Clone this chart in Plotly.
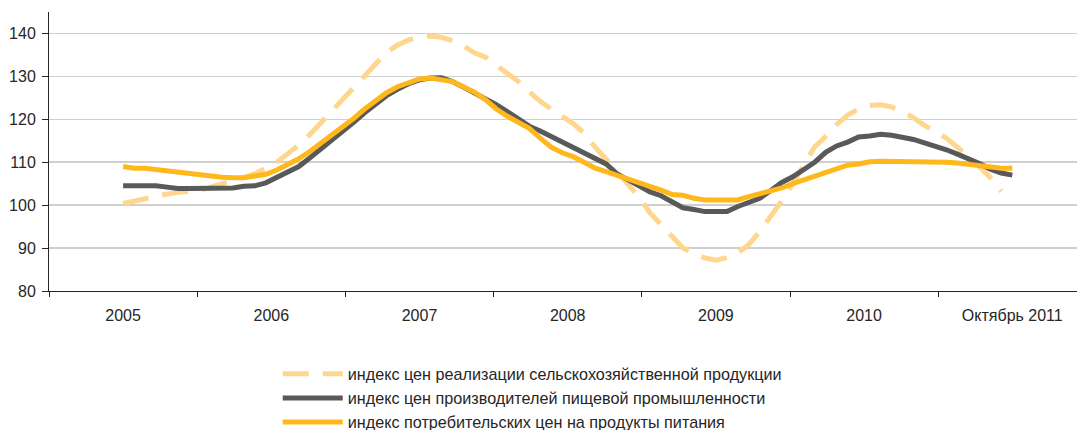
import plotly.graph_objects as go

# Monthly index values, Jan 2005 .. Oct 2011
agri = [100.4, 101.0, 101.6, 102.2, 102.6, 103.0, 103.1, 103.4, 104.2, 105.0,
        105.6, 106.3, 107.3, 108.6, 110.0, 112.0, 114.0, 116.4, 119.2, 121.6,
        124.7, 127.5, 130.4, 133.2, 135.6, 137.3, 138.5, 139.2, 139.4, 139.1,
        138.3, 137.1, 135.5, 134.5, 132.5, 130.8, 128.8, 126.4, 124.2, 122.4,
        120.6, 119.0, 116.8, 113.5, 110.7, 107.8, 105.0, 101.9, 98.2, 95.5,
        93.0, 90.0, 88.8, 87.7, 87.2, 87.8, 88.9, 90.8, 93.9, 97.3,
        101.0, 105.0, 109.5, 113.6, 116.0, 118.8, 121.0, 122.4, 123.2, 123.4,
        122.9, 121.8, 120.4, 118.6, 117.1, 115.6, 113.5, 111.3, 109.0, 106.4,
        103.2]

ppi_food = [104.5, 104.5, 104.5, 104.5, 104.2, 103.9, 103.9, 103.9, 103.9, 103.9,
            104.0, 104.4, 104.5, 105.2, 106.4, 107.6, 109.0, 111.0, 113.0, 115.2,
            117.3, 119.3, 121.5, 123.5, 125.5, 127.0, 128.3, 129.2, 129.6, 129.7,
            128.8, 127.5, 126.2, 124.9, 123.4, 121.8, 120.0, 118.4, 117.3, 116.0,
            114.9, 113.5, 112.3, 111.0, 109.6, 107.3, 105.8, 104.6, 103.1, 102.2,
            100.8, 99.4, 99.0, 98.5, 98.5, 98.5, 99.7, 100.6, 101.6, 103.4,
            105.3, 106.6, 108.3, 110.0, 112.3, 113.8, 114.7, 115.9, 116.1, 116.5,
            116.3, 115.9, 115.3, 114.5, 113.8, 112.9, 111.9, 110.9, 109.7, 108.4,
            107.5, 107.0]

cpi_food = [109.0, 108.6, 108.6, 108.3, 108.0, 107.6, 107.3, 107.0, 106.9, 106.5,
            106.4, 106.4, 106.8, 107.2, 108.2, 109.4, 110.8, 112.5, 114.4, 116.2,
            118.2, 120.2, 122.4, 124.4, 126.2, 127.6, 128.6, 129.4, 129.6, 129.3,
            128.8, 127.6, 126.3, 124.6, 122.4, 120.7, 119.3, 117.9, 115.6, 113.5,
            112.2, 111.3, 110.0, 108.6, 107.8, 107.0, 106.0, 105.2, 104.3, 103.5,
            102.5, 102.3, 101.6, 101.2, 101.2, 101.2, 101.2, 102.0, 102.6, 103.2,
            104.0, 105.0, 105.8, 106.7, 107.5, 108.4, 109.3, 109.6, 110.1, 110.2,
            110.2, 110.2, 110.2, 110.2, 110.2, 110.0, 109.8, 109.5, 109.1, 108.8,
            108.6, 108.6]

tick_labels = ["2005", "2006", "2007", "2008", "2009", "2010", "Октябрь 2011"]
series_names = [
    "индекс цен реализации сельскохозяйственной продукции",
    "индекс цен производителей пищевой промышленности",
    "индекс потребительских цен на продукты питания",
]

n_last = len(cpi_food) - 1          # 81 monthly steps
cat_w = n_last / (len(tick_labels) - 1)   # months per category slot
months_agri = list(range(len(agri)))
months = list(range(len(cpi_food)))

font_family = "Liberation Sans, Arial, sans-serif"

fig = go.Figure()
fig.add_trace(go.Scatter(x=months_agri, y=agri, mode="lines", name=series_names[0],
                         line=dict(color="rgb(255,214,142)", width=5, dash="26px,14px")))
fig.add_trace(go.Scatter(x=months, y=ppi_food, mode="lines", name=series_names[1],
                         line=dict(color="#595959", width=5)))
fig.add_trace(go.Scatter(x=months, y=cpi_food, mode="lines", name=series_names[2],
                         line=dict(color="#FFB81C", width=5)))

px_per_month = 148.2 / cat_w
plot_w = 1077 - 49
x_left = -cat_w / 2
x_right = x_left + plot_w / px_per_month

fig.update_layout(
    width=1077, height=430,
    margin=dict(l=49, r=0, t=12, b=139, autoexpand=False),
    paper_bgcolor="white", plot_bgcolor="white",
    font=dict(family=font_family, size=16, color="#262626"),
    showlegend=True,
    legend=dict(
        orientation="v", x=0.2225, xanchor="left", y=-0.236, yanchor="top",
        font=dict(size=16.2, color="#262626"), itemwidth=60,
        bgcolor="rgba(0,0,0,0)", tracegroupgap=0,
    ),
    xaxis=dict(
        range=[x_left, x_right], showgrid=False, zeroline=False, automargin=False,
        tickmode="array", tickvals=[i * cat_w for i in range(len(tick_labels))],
        ticktext=tick_labels, ticks="", ticklabelstandoff=10,
        showline=True, linecolor="#262626", linewidth=1,
        minor=dict(tickmode="array",
                   tickvals=[(i - 0.5) * cat_w for i in range(len(tick_labels))],
                   ticks="outside", ticklen=5, tickcolor="#262626", tickwidth=1, showgrid=False),
    ),
    yaxis=dict(
        range=[80, 145], tickmode="array", tickvals=[80, 90, 100, 110, 120, 130, 140],
        showgrid=True, gridcolor="#cfcfcf", gridwidth=1.5, zeroline=False, automargin=False,
        ticks="outside", ticklen=6, tickcolor="#262626",
        showline=True, linecolor="#262626", linewidth=1, ticklabelstandoff=3,
    ),
)

fig.write_html("out.html",
               config={"displayModeBar": False, "staticPlot": True},
               post_script="document.body.style.margin='0';document.body.style.padding='0';")
